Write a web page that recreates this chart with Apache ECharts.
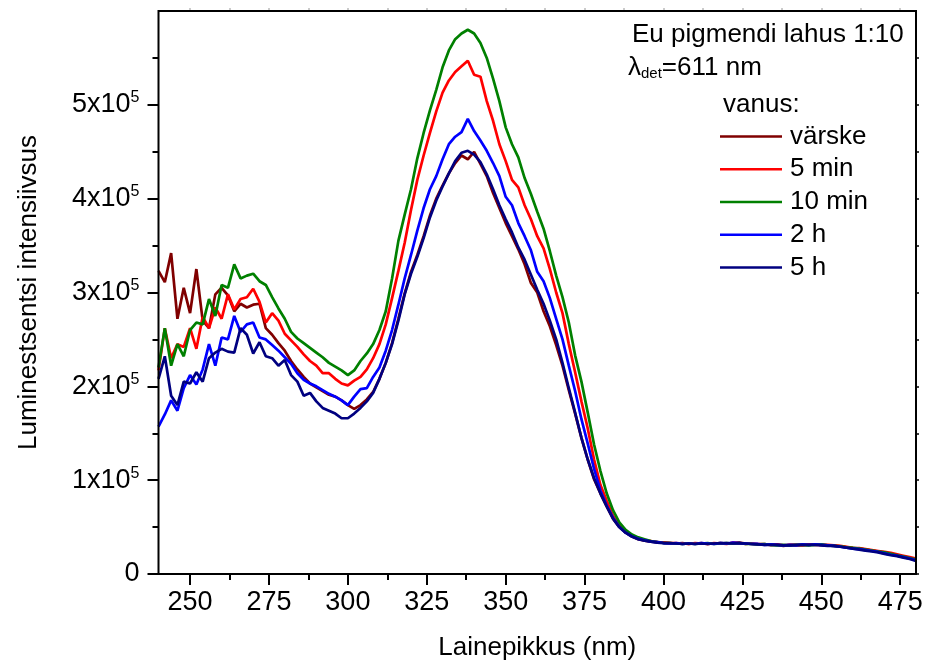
<!DOCTYPE html>
<html><head><meta charset="utf-8">
<script src="https://cdn.jsdelivr.net/npm/echarts@6/dist/echarts.min.js"></script>
<style>html,body{margin:0;padding:0;background:#fff}#c{width:928px;height:666px}</style>
</head><body><div id="c"></div>
<script>
// Wavelength (nm)
const wavelength = [
240,242,244,246,248,250,252,254,256,258,
260,262,264,266,268,270,272,274,276,278,
280,282,284,286,288,290,292,294,296,298,
300,302,304,306,308,310,312,314,316,318,
320,322,324,326,328,330,332,334,336,338,
340,342,344,346,348,350,352,354,356,358,
360,362,364,366,368,370,372,374,376,378,
380,382,384,386,388,390,392,394,396,398,
400,402,404,406,408,410,412,414,416,418,
420,422,424,426,428,430,432,434,436,438,
440,442,444,446,448,450,452,454,456,458,
460,462,464,466,468,470,472,474,476,478,
480];
// Intensities in units of 10^5
const varske = [
3.23,3.11,3.42,2.72,3.05,2.78,3.25,2.70,2.62,2.98,
3.05,2.97,2.80,2.88,2.84,2.87,2.88,2.62,2.55,2.46,
2.38,2.27,2.18,2.10,2.03,1.99,1.95,1.91,1.89,1.85,
1.80,1.76,1.80,1.86,1.94,2.08,2.25,2.46,2.72,2.99,
3.22,3.40,3.60,3.82,4.00,4.14,4.27,4.38,4.46,4.42,
4.50,4.37,4.24,4.06,3.90,3.74,3.60,3.46,3.30,3.10,
3.00,2.80,2.64,2.44,2.22,1.96,1.71,1.45,1.22,1.01,
0.86,0.72,0.59,0.50,0.44,0.40,0.37,0.355,0.345,0.34,
0.335,0.33,0.325,0.33,0.32,0.325,0.33,0.32,0.325,0.33,
0.325,0.33,0.335,0.325,0.32,0.315,0.32,0.31,0.31,0.30,
0.31,0.305,0.31,0.31,0.315,0.31,0.305,0.30,0.295,0.285,
0.275,0.27,0.26,0.25,0.24,0.225,0.215,0.20,0.185,0.17,
0.155];
const min5 = [
2.17,2.62,2.30,2.45,2.42,2.62,2.40,2.74,2.62,2.84,
2.72,2.98,2.82,2.93,2.95,3.04,2.90,2.68,2.78,2.70,
2.56,2.49,2.42,2.34,2.27,2.22,2.14,2.14,2.08,2.03,
2.01,2.06,2.10,2.18,2.30,2.45,2.66,2.94,3.23,3.53,
3.88,4.20,4.46,4.70,4.93,5.13,5.26,5.35,5.41,5.47,
5.32,5.30,5.04,4.83,4.58,4.40,4.20,4.12,3.93,3.78,
3.60,3.47,3.25,3.00,2.78,2.45,2.15,1.84,1.55,1.22,
0.95,0.78,0.62,0.52,0.45,0.41,0.38,0.36,0.35,0.34,
0.335,0.33,0.33,0.325,0.32,0.33,0.325,0.32,0.33,0.325,
0.32,0.335,0.33,0.32,0.325,0.32,0.315,0.31,0.315,0.305,
0.31,0.31,0.305,0.315,0.31,0.31,0.31,0.305,0.30,0.29,
0.28,0.275,0.265,0.255,0.245,0.235,0.225,0.21,0.195,0.18,
0.165];
const min10 = [
2.20,2.62,2.22,2.45,2.32,2.60,2.68,2.66,2.93,2.75,
3.08,3.05,3.30,3.15,3.18,3.20,3.12,3.08,2.95,2.83,
2.72,2.58,2.51,2.46,2.41,2.36,2.31,2.25,2.21,2.17,
2.12,2.17,2.27,2.35,2.45,2.60,2.80,3.15,3.55,3.83,
4.10,4.43,4.70,4.94,5.16,5.40,5.58,5.70,5.76,5.80,
5.76,5.66,5.50,5.28,5.04,4.76,4.58,4.44,4.22,4.05,
3.86,3.68,3.44,3.18,2.95,2.68,2.33,2.05,1.72,1.38,
1.10,0.86,0.68,0.55,0.47,0.42,0.39,0.37,0.35,0.34,
0.33,0.33,0.325,0.32,0.325,0.32,0.325,0.33,0.32,0.325,
0.33,0.325,0.33,0.32,0.32,0.315,0.32,0.31,0.305,0.31,
0.305,0.31,0.31,0.305,0.31,0.315,0.305,0.30,0.295,0.285,
0.28,0.27,0.26,0.25,0.24,0.23,0.215,0.20,0.185,0.17,
0.155];
const h2 = [
1.57,1.70,1.85,1.74,1.98,2.12,2.02,2.18,2.45,2.22,
2.52,2.50,2.75,2.58,2.66,2.68,2.52,2.50,2.44,2.38,
2.31,2.24,2.14,2.07,2.03,2.00,1.96,1.92,1.89,1.85,
1.80,1.89,1.97,1.98,2.10,2.20,2.38,2.60,2.87,3.15,
3.40,3.66,3.90,4.10,4.24,4.42,4.58,4.66,4.71,4.85,
4.72,4.62,4.51,4.38,4.24,4.02,3.93,3.74,3.60,3.45,
3.22,3.12,2.94,2.72,2.50,2.22,1.95,1.65,1.39,1.12,
0.89,0.73,0.60,0.50,0.44,0.40,0.375,0.36,0.345,0.34,
0.33,0.325,0.33,0.32,0.325,0.32,0.33,0.325,0.32,0.33,
0.325,0.335,0.33,0.325,0.32,0.32,0.31,0.315,0.31,0.305,
0.31,0.305,0.315,0.31,0.315,0.31,0.305,0.30,0.29,0.28,
0.27,0.265,0.255,0.245,0.235,0.22,0.205,0.195,0.18,0.165,
0.145];
const h5 = [
2.08,2.32,1.90,1.80,2.05,2.03,2.15,2.05,2.30,2.36,
2.40,2.37,2.36,2.62,2.55,2.35,2.47,2.32,2.30,2.22,
2.28,2.12,2.05,1.90,1.93,1.84,1.77,1.74,1.71,1.66,
1.66,1.71,1.77,1.84,1.93,2.08,2.25,2.45,2.70,2.98,
3.20,3.38,3.58,3.80,3.98,4.13,4.27,4.40,4.49,4.51,
4.47,4.39,4.26,4.10,3.93,3.78,3.64,3.48,3.35,3.19,
3.03,2.88,2.70,2.50,2.25,1.98,1.72,1.45,1.22,1.02,
0.86,0.72,0.59,0.50,0.44,0.40,0.37,0.355,0.345,0.335,
0.33,0.33,0.325,0.32,0.325,0.32,0.325,0.32,0.325,0.33,
0.33,0.325,0.33,0.325,0.32,0.315,0.31,0.31,0.31,0.305,
0.305,0.31,0.31,0.31,0.31,0.305,0.30,0.30,0.29,0.28,
0.27,0.26,0.25,0.24,0.23,0.215,0.20,0.19,0.175,0.16,
0.14];

const seriesNames = ['värske','5 min','10 min','2 h','5 h'];
const seriesColors = ['#800000','#FF0000','#008000','#0000FF','#000080'];
const seriesValues = [varske, min5, min10, h2, h5];

const xMajorTicks = [250,275,300,325,350,375,400,425,450,475];
const xMinorTicks = [262.5,287.5,312.5,337.5,362.5,387.5,412.5,437.5,462.5];
const yMajorTicks = [0,1,2,3,4,5];
const yMinorTicks = [0.5,1.5,2.5,3.5,4.5,5.5];

const FONT = '"Liberation Sans", Arial, sans-serif';
const chart = echarts.init(document.getElementById('c'), null, {renderer:'canvas'});

const baseX = {type:'value', min:240, max:480, splitLine:{show:false}};
const baseY = {type:'value', min:0, max:6, splitLine:{show:false}};
const noLine = {show:false, onZero:false};

const option = {
  animation:false,
  backgroundColor:'#fff',
  grid:{left:158.5, right:12, top:11, bottom:92, containLabel:false,
        show:true, borderColor:'#000', borderWidth:2, backgroundColor:'rgba(0,0,0,0)', z:10},
  xAxis:[
    Object.assign({}, baseX, {
      position:'bottom',
      axisLine:noLine,
      axisTick:{show:true, customValues:xMajorTicks, length:11, lineStyle:{color:'#000', width:2}},
      axisLabel:{customValues:xMajorTicks, fontSize:27, color:'#000', fontFamily:FONT, margin:15},
      name:'Lainepikkus (nm)', nameLocation:'middle', nameGap:61,
      nameTextStyle:{fontSize:26, color:'#000', fontFamily:FONT}
    }),
    Object.assign({}, baseX, {
      position:'top',
      axisLine:noLine,
      axisTick:{show:true, customValues:xMajorTicks.concat(xMinorTicks), length:3, lineStyle:{color:'#bbb', width:1.5}},
      axisLabel:{show:false}
    }),
    Object.assign({}, baseX, {
      position:'bottom', offset:0,
      axisLine:noLine,
      axisTick:{show:true, customValues:xMinorTicks, length:6, lineStyle:{color:'#000', width:2}},
      axisLabel:{show:false}
    })
  ],
  yAxis:[
    Object.assign({}, baseY, {
      position:'left',
      axisLine:noLine,
      axisTick:{show:true, customValues:yMajorTicks, length:11, lineStyle:{color:'#000', width:2}},
      axisLabel:{
        customValues:yMajorTicks, margin:19, color:'#000', fontFamily:FONT,
        formatter:function(v){ return v === 0 ? '{a|0}' : '{a|' + v + 'x10}{b|5}'; },
        rich:{
          a:{fontSize:27, fontFamily:FONT, color:'#000', lineHeight:30},
          b:{fontSize:16, fontFamily:FONT, color:'#000', lineHeight:16, verticalAlign:'top'}
        }
      },
      name:'Luminestsentsi intensiivsus', nameLocation:'middle', nameGap:117,
      nameTextStyle:{fontSize:26, color:'#000', fontFamily:FONT}
    }),
    Object.assign({}, baseY, {
      position:'right',
      axisLine:noLine,
      axisTick:{show:true, customValues:yMajorTicks.concat(yMinorTicks), length:3, lineStyle:{color:'#000', width:1.5}},
      axisLabel:{show:false}
    }),
    Object.assign({}, baseY, {
      position:'left', offset:0,
      axisLine:noLine,
      axisTick:{show:true, customValues:yMinorTicks, length:6, lineStyle:{color:'#000', width:2}},
      axisLabel:{show:false}
    })
  ],
  legend:{
    orient:'vertical', left:720, top:120.5, padding:0, itemGap:0.75,
    itemWidth:62, itemHeight:2.5, icon:'rect',
    data:seriesNames,
    textStyle:{fontSize:26, color:'#000', fontFamily:FONT, lineHeight:32, padding:[0,0,0,3]}
  },
  graphic:[
    {type:'text', left:632, top:22, style:{text:'Eu pigmendi lahus 1:10', font:'26px ' + FONT, fill:'#000'}},
    {type:'text', left:628, top:55, style:{
      text:'{l|λ}{s|det}{n|=611 nm}', fill:'#000',
      rich:{
        l:{font:'26px ' + FONT, fill:'#000', lineHeight:30, verticalAlign:'bottom'},
        s:{font:'15px ' + FONT, fill:'#000', lineHeight:20, verticalAlign:'bottom'},
        n:{font:'26px ' + FONT, fill:'#000', lineHeight:30, verticalAlign:'bottom'}
      }}},
    {type:'text', left:723, top:92, style:{text:'vanus:', font:'26px ' + FONT, fill:'#000'}}
  ],
  series: seriesNames.map(function(name, k){
    return {
      name:name, type:'line', xAxisIndex:0, yAxisIndex:0,
      data: wavelength.map(function(w, i){ return [w, seriesValues[k][i]]; }),
      showSymbol:false, symbol:'none',
      lineStyle:{color:seriesColors[k], width:2.7},
      itemStyle:{color:seriesColors[k]},
      z: 2 + k
    };
  })
};
chart.setOption(option);
</script></body></html>
